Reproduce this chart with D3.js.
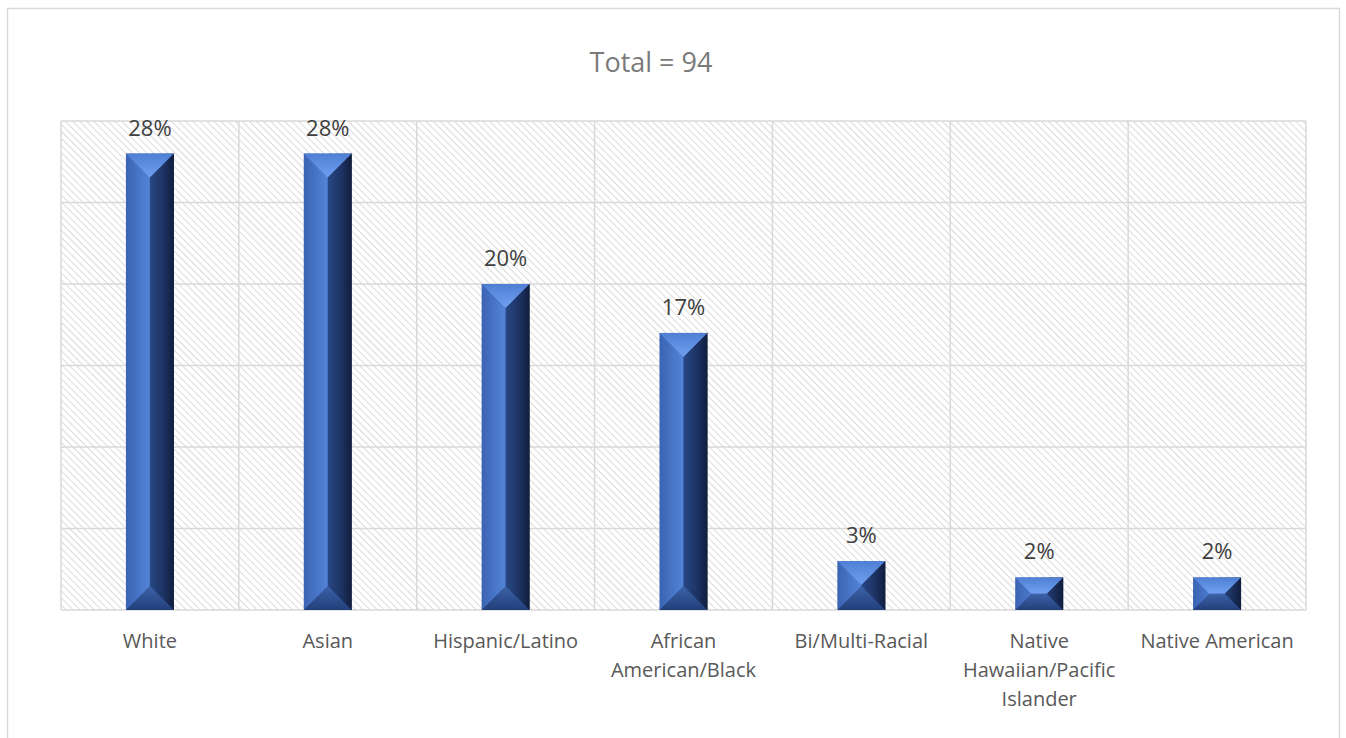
<!DOCTYPE html>
<html>
<head>
<meta charset="utf-8">
<script src="https://d3js.org/d3.v7.min.js"></script>
<style>
  body { margin: 0; background: #fff; }
  text { font-family: "Open Sans", "Noto Sans", sans-serif; }
</style>
</head>
<body>
<div id="viz"></div>
<script>
const categories = ["White", "Asian", "Hispanic/Latino", "African American/Black",
                    "Bi/Multi-Racial", "Native Hawaiian/Pacific Islander", "Native American"];
const percents = [28, 28, 20, 17, 3, 2, 2];
const yTicks = [0, 5, 10, 15, 20, 25, 30];
const title = "Total = 94";

const W = 1346, H = 738;
const plot = { left: 61, right: 1306, top: 121, bottom: 610 };

const svg = d3.select("#viz").append("svg").attr("width", W).attr("height", H);
const defs = svg.append("defs");

// diagonal hatch for the plot background
const pat = defs.append("pattern").attr("id", "hatch")
  .attr("patternUnits", "userSpaceOnUse").attr("width", 5).attr("height", 5)
  .attr("patternTransform", "rotate(-45)");
pat.append("rect").attr("width", 5).attr("height", 5).attr("fill", "#fff");
pat.append("line").attr("x1", 0).attr("y1", 0).attr("x2", 0).attr("y2", 5)
  .attr("stroke", "#cfcfcf").attr("stroke-width", 1.5);

// bar face gradients
const side = defs.append("linearGradient").attr("id", "side").attr("x1", 0).attr("x2", 1).attr("y1", 0).attr("y2", 0);
[["0%", "#3b63b3"], ["48%", "#5283d6"], ["52%", "#3c69bb"], ["80%", "#253f78"], ["100%", "#0c1630"]]
  .forEach(s => side.append("stop").attr("offset", s[0]).attr("stop-color", s[1]));
const topG = defs.append("linearGradient").attr("id", "topface").attr("x1", 0).attr("x2", 0).attr("y1", 0).attr("y2", 1);
[["0%", "#4f7fd4"], ["100%", "#70a0f0"]].forEach(s => topG.append("stop").attr("offset", s[0]).attr("stop-color", s[1]));
const botG = defs.append("linearGradient").attr("id", "botface").attr("x1", 0).attr("x2", 0).attr("y1", 0).attr("y2", 1);
[["0%", "#3c62a8"], ["100%", "#223f7a"]].forEach(s => botG.append("stop").attr("offset", s[0]).attr("stop-color", s[1]));

// chart frame
svg.append("rect").attr("x", 7.5).attr("y", 8.5).attr("width", 1332).attr("height", 740)
  .attr("fill", "#fff").attr("stroke", "#d9d9d9").attr("stroke-width", 1.5);

const x = d3.scaleBand().domain(categories).range([plot.left, plot.right]);
const y = d3.scaleLinear().domain([0, 30]).range([plot.bottom, plot.top]);

svg.append("rect").attr("x", plot.left).attr("y", plot.top)
  .attr("width", plot.right - plot.left).attr("height", plot.bottom - plot.top)
  .attr("fill", "url(#hatch)");

// gridlines
svg.append("g").selectAll("line").data(yTicks).join("line")
  .attr("x1", plot.left).attr("x2", plot.right)
  .attr("y1", d => y(d)).attr("y2", d => y(d))
  .attr("stroke", "#d9d9d9").attr("stroke-width", 1.5);
const bounds = categories.map(c => x(c)).concat([plot.right]);
svg.append("g").selectAll("line").data(bounds).join("line")
  .attr("x1", d => d).attr("x2", d => d)
  .attr("y1", plot.top).attr("y2", plot.bottom)
  .attr("stroke", "#d9d9d9").attr("stroke-width", 1.5);

// bevelled bars
const bw = x.bandwidth() * 0.27;
const bars = svg.append("g").selectAll("g").data(categories).join("g");
bars.each(function (c, i) {
  const g = d3.select(this);
  const x0 = x(c) + x.bandwidth() / 2 - bw / 2, x1 = x0 + bw;
  const y0 = y(percents[i]), y1 = y(0);
  const d = Math.min(bw / 2, (y1 - y0) / 2);
  const ix0 = x0 + d, ix1 = x1 - d, iy0 = y0 + d, iy1 = y1 - d;
  const poly = pts => "M" + pts.map(p => p.join(",")).join("L") + "Z";
  g.append("rect").attr("x", x0).attr("y", y0).attr("width", bw).attr("height", y1 - y0)
    .attr("fill", "url(#side)");
  g.append("path").attr("d", poly([[x0, y0], [x1, y0], [ix1, iy0], [ix0, iy0]])).attr("fill", "url(#topface)");
  g.append("path").attr("d", poly([[x0, y1], [x1, y1], [ix1, iy1], [ix0, iy1]])).attr("fill", "url(#botface)");
  g.append("path").attr("d", poly([[x1, y0], [x1, y1], [ix1, iy1], [ix1, iy0]])).attr("fill", "#14244a").attr("opacity", 0.5);
});

// value labels
svg.append("g").selectAll("text").data(categories).join("text")
  .attr("x", c => x(c) + x.bandwidth() / 2)
  .attr("y", (c, i) => y(percents[i]) - 18)
  .attr("text-anchor", "middle").attr("font-size", 22).attr("fill", "#404040")
  .text((c, i) => percents[i] + "%");

// category labels, wrapped to the band width
const xl = svg.append("g").selectAll("text").data(categories).join("text")
  .attr("x", c => x(c) + x.bandwidth() / 2).attr("y", 648)
  .attr("text-anchor", "middle").attr("font-size", 20).attr("fill", "#595959");
xl.each(function (c) {
  const t = d3.select(this), cx = x(c) + x.bandwidth() / 2;
  const words = c.split(" ");
  let line = [];
  let ts = t.append("tspan").attr("x", cx).attr("dy", 0);
  words.forEach(w => {
    line.push(w);
    ts.text(line.join(" "));
    if (ts.node().getComputedTextLength() > x.bandwidth() - 4 && line.length > 1) {
      line.pop();
      ts.text(line.join(" "));
      line = [w];
      ts = t.append("tspan").attr("x", cx).attr("dy", 29).text(w);
    }
  });
});

svg.append("text").attr("x", 651).attr("y", 72)
  .attr("text-anchor", "middle").attr("font-size", 27).attr("fill", "#7a7a7a")
  .text(title);
</script>
</body>
</html>
